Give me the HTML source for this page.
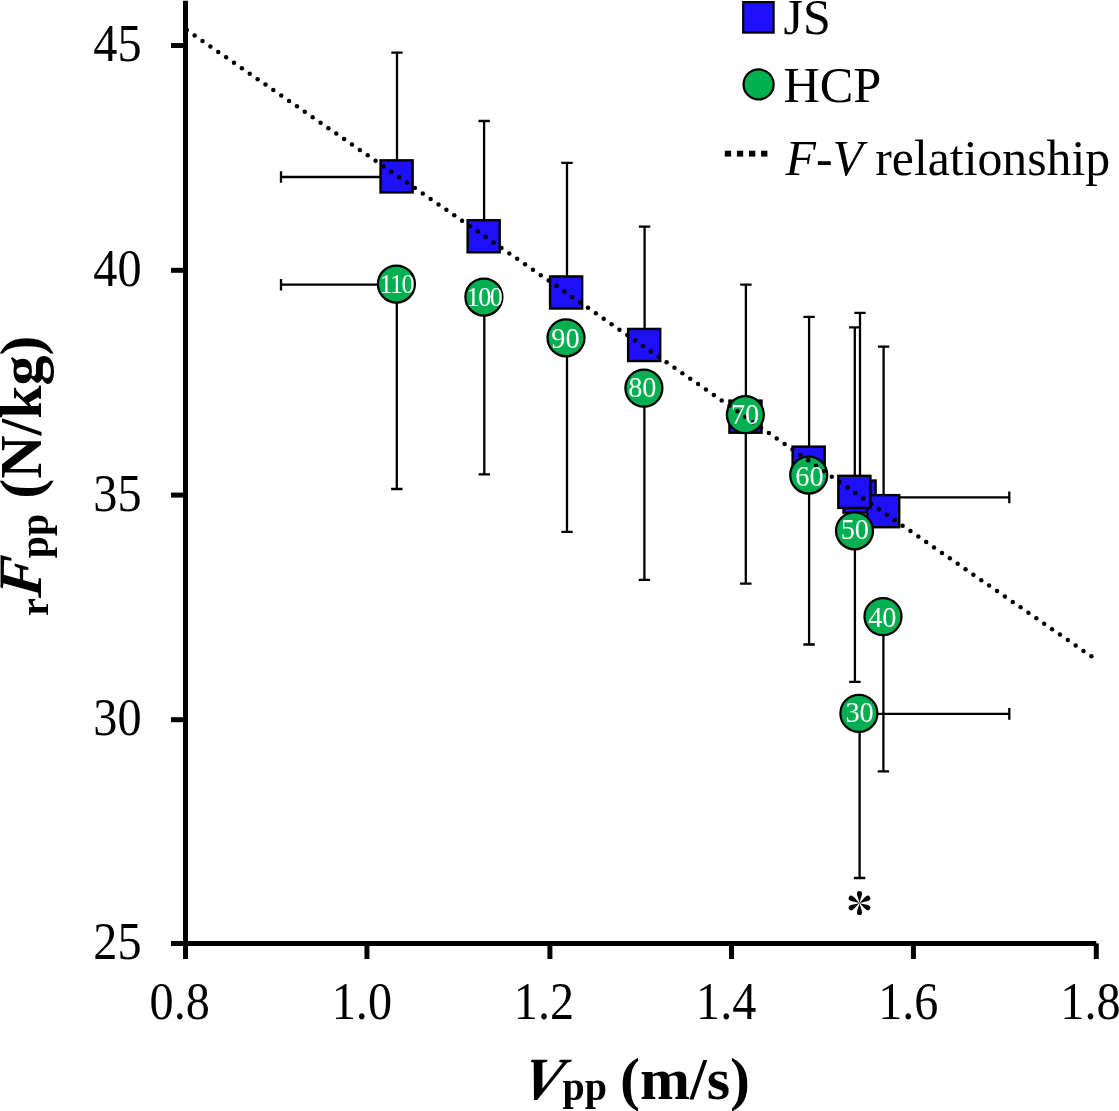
<!DOCTYPE html>
<html><head><meta charset="utf-8"><title>F-V relationship</title>
<style>html,body{margin:0;padding:0;background:#fff;}body{width:1119px;height:1111px;overflow:hidden;}svg{display:block;will-change:transform;}text{font-family:"Liberation Serif",serif;fill:#000;}</style>
</head><body>
<svg width="1119" height="1111" viewBox="0 0 1119 1111">
<rect x="0" y="0" width="1119" height="1111" fill="#fff"/>
<g stroke="#000" stroke-width="5" fill="none" stroke-linecap="butt">
<line x1="185.5" y1="0.8" x2="185.5" y2="959"/>
<line x1="171" y1="943.5" x2="1096.3" y2="943.5"/>
<line x1="171" y1="45.5" x2="185.5" y2="45.5"/>
<line x1="171" y1="270.3" x2="185.5" y2="270.3"/>
<line x1="171" y1="495.1" x2="185.5" y2="495.1"/>
<line x1="171" y1="719.7" x2="185.5" y2="719.7"/>
<line x1="366.95" y1="943.4" x2="366.95" y2="959"/>
<line x1="549.90" y1="943.4" x2="549.90" y2="959"/>
<line x1="731.50" y1="943.4" x2="731.50" y2="959"/>
<line x1="913.40" y1="943.4" x2="913.40" y2="959"/>
<line x1="1096.30" y1="943.4" x2="1096.30" y2="959"/>
</g>
<g font-size="50" text-anchor="end">
<text transform="translate(141.5,61.1) scale(0.965,1.05)">45</text>
<text transform="translate(141.5,285.9) scale(0.965,1.05)">40</text>
<text transform="translate(141.5,510.8) scale(0.965,1.05)">35</text>
<text transform="translate(141.5,735.3) scale(0.965,1.05)">30</text>
<text transform="translate(141.5,959.1) scale(0.965,1.05)">25</text>
</g>
<g font-size="50" text-anchor="middle">
<text transform="translate(179.7,1018.9) scale(0.965,1.045)">0.8</text>
<text transform="translate(361.9,1018.9) scale(0.965,1.045)">1.0</text>
<text transform="translate(544.0,1018.9) scale(0.965,1.045)">1.2</text>
<text transform="translate(726.2,1018.9) scale(0.965,1.045)">1.4</text>
<text transform="translate(908.3,1018.9) scale(0.965,1.045)">1.6</text>
<text transform="translate(1090.5,1018.9) scale(0.965,1.045)">1.8</text>
</g>
<g stroke="#000" stroke-width="2.3" fill="none">
<path d="M860.0 496.6V312.8M854.3 312.8H865.7"/>
<path d="M883.6 511.2V346.7M877.9 346.7H889.3"/>
<path d="M854.8 491.9V327.4M849.1 327.4H860.5"/>
<path d="M809.1 462.7V316.8M803.4 316.8H814.8"/>
<path d="M745.9 416.7V284.7M740.2 284.7H751.6"/>
<path d="M644.6 345.0V226.7M638.9 226.7H650.3"/>
<path d="M567.0 292.5V162.9M561.3 162.9H572.7"/>
<path d="M484.1 236.3V121.0M478.4 121.0H489.8"/>
<path d="M397.0 176.4V52.7M391.3 52.7H402.7"/>
<path d="M396.6 177H281M281 171.2V182.8"/>
<path d="M859.6 497.4H1009.3M1009.3 491.6V503.2"/>
</g>
<g fill="#1f10fa" stroke="#000" stroke-width="2.4">
<rect x="843.52" y="480.53" width="32.1" height="32.1"/>
<rect x="867.12" y="495.12" width="32.1" height="32.1"/>
<rect x="838.32" y="475.82" width="32.1" height="32.1"/>
<rect x="792.62" y="446.62" width="32.1" height="32.1"/>
<rect x="729.42" y="400.62" width="32.1" height="32.1"/>
<rect x="628.12" y="328.93" width="32.1" height="32.1"/>
<rect x="550.07" y="276.43" width="32.1" height="32.1"/>
<rect x="467.62" y="220.23" width="32.1" height="32.1"/>
<rect x="380.53" y="160.33" width="32.1" height="32.1"/>
</g>
<g stroke="#000" stroke-width="2.3" fill="none">
<path d="M859.6 713.4V878.0M853.9 878.0H865.3"/>
<path d="M883.4 616.6V771.4M877.7 771.4H889.1"/>
<path d="M854.9 530.8V681.8M849.2 681.8H860.6"/>
<path d="M809.1 475.0V644.5M803.4 644.5H814.8"/>
<path d="M745.8 414.7V583.7M740.1 583.7H751.5"/>
<path d="M644.4 388.1V579.9M638.7 579.9H650.1"/>
<path d="M567.0 337.8V531.9M561.3 531.9H572.7"/>
<path d="M484.3 297.0V474.4M478.6 474.4H490.0"/>
<path d="M396.8 284.0V489.0M391.1 489.0H402.5"/>
<path d="M396.6 284.7H281M281 278.9V290.5"/>
<path d="M859.3 713.9H1009.3M1009.3 708.1V719.7"/>
</g>
<g fill="#00b050" stroke="#000" stroke-width="2.25">
<circle cx="858.9" cy="713.4" r="18.5"/>
<circle cx="883.0" cy="616.6" r="18.5"/>
<circle cx="854.5" cy="530.8" r="18.5"/>
<circle cx="808.7" cy="475.0" r="18.5"/>
<circle cx="745.4" cy="414.7" r="18.5"/>
<circle cx="643.9" cy="388.1" r="18.5"/>
<circle cx="566.0" cy="337.8" r="18.5"/>
<circle cx="483.9" cy="297.0" r="18.5"/>
<circle cx="396.4" cy="284.0" r="18.5"/>
</g>
<g fill="#000">
<circle cx="186.80" cy="30.12" r="2.25"/>
<circle cx="194.67" cy="35.57" r="2.25"/>
<circle cx="202.53" cy="41.01" r="2.25"/>
<circle cx="210.40" cy="46.46" r="2.25"/>
<circle cx="218.26" cy="51.90" r="2.25"/>
<circle cx="226.13" cy="57.35" r="2.25"/>
<circle cx="234.00" cy="62.79" r="2.25"/>
<circle cx="241.86" cy="68.24" r="2.25"/>
<circle cx="249.73" cy="73.68" r="2.25"/>
<circle cx="257.59" cy="79.13" r="2.25"/>
<circle cx="265.46" cy="84.58" r="2.25"/>
<circle cx="273.33" cy="90.02" r="2.25"/>
<circle cx="281.19" cy="95.47" r="2.25"/>
<circle cx="289.06" cy="100.91" r="2.25"/>
<circle cx="296.92" cy="106.36" r="2.25"/>
<circle cx="304.79" cy="111.80" r="2.25"/>
<circle cx="312.66" cy="117.25" r="2.25"/>
<circle cx="320.52" cy="122.70" r="2.25"/>
<circle cx="328.39" cy="128.14" r="2.25"/>
<circle cx="336.25" cy="133.59" r="2.25"/>
<circle cx="344.12" cy="139.03" r="2.25"/>
<circle cx="351.99" cy="144.48" r="2.25"/>
<circle cx="359.85" cy="149.92" r="2.25"/>
<circle cx="367.72" cy="155.37" r="2.25"/>
<circle cx="375.58" cy="160.81" r="2.25"/>
<circle cx="383.45" cy="166.26" r="2.25"/>
<circle cx="391.32" cy="171.71" r="2.25"/>
<circle cx="399.18" cy="177.15" r="2.25"/>
<circle cx="407.05" cy="182.60" r="2.25"/>
<circle cx="414.91" cy="188.04" r="2.25"/>
<circle cx="422.78" cy="193.49" r="2.25"/>
<circle cx="430.65" cy="198.93" r="2.25"/>
<circle cx="438.51" cy="204.38" r="2.25"/>
<circle cx="446.38" cy="209.82" r="2.25"/>
<circle cx="454.24" cy="215.27" r="2.25"/>
<circle cx="462.11" cy="220.72" r="2.25"/>
<circle cx="469.98" cy="226.16" r="2.25"/>
<circle cx="477.84" cy="231.61" r="2.25"/>
<circle cx="485.71" cy="237.05" r="2.25"/>
<circle cx="493.57" cy="242.50" r="2.25"/>
<circle cx="501.44" cy="247.94" r="2.25"/>
<circle cx="509.31" cy="253.39" r="2.25"/>
<circle cx="517.17" cy="258.84" r="2.25"/>
<circle cx="525.04" cy="264.28" r="2.25"/>
<circle cx="532.90" cy="269.73" r="2.25"/>
<circle cx="540.77" cy="275.17" r="2.25"/>
<circle cx="548.64" cy="280.62" r="2.25"/>
<circle cx="556.50" cy="286.06" r="2.25"/>
<circle cx="564.37" cy="291.51" r="2.25"/>
<circle cx="572.23" cy="296.95" r="2.25"/>
<circle cx="580.10" cy="302.40" r="2.25"/>
<circle cx="587.97" cy="307.85" r="2.25"/>
<circle cx="595.83" cy="313.29" r="2.25"/>
<circle cx="603.70" cy="318.74" r="2.25"/>
<circle cx="611.56" cy="324.18" r="2.25"/>
<circle cx="619.43" cy="329.63" r="2.25"/>
<circle cx="627.30" cy="335.07" r="2.25"/>
<circle cx="635.16" cy="340.52" r="2.25"/>
<circle cx="643.03" cy="345.96" r="2.25"/>
<circle cx="650.89" cy="351.41" r="2.25"/>
<circle cx="658.76" cy="356.86" r="2.25"/>
<circle cx="666.63" cy="362.30" r="2.25"/>
<circle cx="674.49" cy="367.75" r="2.25"/>
<circle cx="682.36" cy="373.19" r="2.25"/>
<circle cx="690.22" cy="378.64" r="2.25"/>
<circle cx="698.09" cy="384.08" r="2.25"/>
<circle cx="705.96" cy="389.53" r="2.25"/>
<circle cx="713.82" cy="394.98" r="2.25"/>
<circle cx="721.69" cy="400.42" r="2.25"/>
<circle cx="729.55" cy="405.87" r="2.25"/>
<circle cx="737.42" cy="411.31" r="2.25"/>
<circle cx="745.29" cy="416.76" r="2.25"/>
<circle cx="753.15" cy="422.20" r="2.25"/>
<circle cx="761.02" cy="427.65" r="2.25"/>
<circle cx="768.88" cy="433.09" r="2.25"/>
<circle cx="776.75" cy="438.54" r="2.25"/>
<circle cx="784.62" cy="443.99" r="2.25"/>
<circle cx="792.48" cy="449.43" r="2.25"/>
<circle cx="800.35" cy="454.88" r="2.25"/>
<circle cx="808.21" cy="460.32" r="2.25"/>
<circle cx="816.08" cy="465.77" r="2.25"/>
<circle cx="823.95" cy="471.21" r="2.25"/>
<circle cx="831.81" cy="476.66" r="2.25"/>
<circle cx="839.68" cy="482.10" r="2.25"/>
<circle cx="847.54" cy="487.55" r="2.25"/>
<circle cx="855.41" cy="493.00" r="2.25"/>
<circle cx="863.28" cy="498.44" r="2.25"/>
<circle cx="871.14" cy="503.89" r="2.25"/>
<circle cx="879.01" cy="509.33" r="2.25"/>
<circle cx="886.87" cy="514.78" r="2.25"/>
<circle cx="894.74" cy="520.22" r="2.25"/>
<circle cx="902.61" cy="525.67" r="2.25"/>
<circle cx="910.47" cy="531.12" r="2.25"/>
<circle cx="918.34" cy="536.56" r="2.25"/>
<circle cx="926.20" cy="542.01" r="2.25"/>
<circle cx="934.07" cy="547.45" r="2.25"/>
<circle cx="941.94" cy="552.90" r="2.25"/>
<circle cx="949.80" cy="558.34" r="2.25"/>
<circle cx="957.67" cy="563.79" r="2.25"/>
<circle cx="965.53" cy="569.23" r="2.25"/>
<circle cx="973.40" cy="574.68" r="2.25"/>
<circle cx="981.27" cy="580.13" r="2.25"/>
<circle cx="989.13" cy="585.57" r="2.25"/>
<circle cx="997.00" cy="591.02" r="2.25"/>
<circle cx="1004.86" cy="596.46" r="2.25"/>
<circle cx="1012.73" cy="601.91" r="2.25"/>
<circle cx="1020.60" cy="607.35" r="2.25"/>
<circle cx="1028.46" cy="612.80" r="2.25"/>
<circle cx="1036.33" cy="618.24" r="2.25"/>
<circle cx="1044.19" cy="623.69" r="2.25"/>
<circle cx="1052.06" cy="629.14" r="2.25"/>
<circle cx="1059.93" cy="634.58" r="2.25"/>
<circle cx="1067.79" cy="640.03" r="2.25"/>
<circle cx="1075.66" cy="645.47" r="2.25"/>
<circle cx="1083.52" cy="650.92" r="2.25"/>
<circle cx="1091.39" cy="656.36" r="2.25"/>
</g>
<g text-anchor="middle">
<text transform="translate(396.2,293.1) scale(0.97,1)" font-size="27" letter-spacing="-1.6" style="fill:#fff">110</text>
<text transform="translate(483.9,306.2) scale(0.97,1)" font-size="27" letter-spacing="-1.6" style="fill:#fff">100</text>
<text transform="translate(565.4,348.0) scale(0.955,1)" font-size="29.7" style="fill:#fff">90</text>
<text transform="translate(642.3,397.0) scale(0.955,1)" font-size="29.7" style="fill:#fff">80</text>
<text transform="translate(745.1,424.4) scale(0.955,1)" font-size="29.7" style="fill:#fff">70</text>
<text transform="translate(809.4,485.5) scale(0.955,1)" font-size="29.7" style="fill:#fff">60</text>
<text transform="translate(854.8,539.3) scale(0.955,1)" font-size="29.7" style="fill:#fff">50</text>
<text transform="translate(882.3,626.8) scale(0.955,1)" font-size="29.7" style="fill:#fff">40</text>
<text transform="translate(859.6,722.1) scale(0.955,1)" font-size="29.7" style="fill:#fff">30</text>
</g>
<rect x="743.2" y="2.1" width="30.4" height="30.5" fill="#1f10fa" stroke="#000" stroke-width="2.2"/>
<circle cx="758.6" cy="84.45" r="15.05" fill="#00b050" stroke="#000" stroke-width="2.2"/>
<rect x="724.80" y="150.7" width="6.3" height="5.9" fill="#000"/>
<rect x="736.90" y="150.7" width="6.3" height="5.9" fill="#000"/>
<rect x="749.00" y="150.7" width="6.3" height="5.9" fill="#000"/>
<rect x="761.10" y="150.7" width="6.3" height="5.9" fill="#000"/>
<text transform="translate(783.5,33.5) scale(1,1.03)" font-size="50">JS</text>
<text transform="translate(783.5,101.6) scale(1.006,1.03)" font-size="50">HCP</text>
<text transform="translate(785.5,175.4) scale(0.995,1.025)" font-size="50"><tspan font-style="italic">F-V</tspan> relationship</text>
<g transform="translate(859.5,903)" fill="#000" aria-label="*">
<path transform="rotate(0)" d="M0 0C-0.45 -3 -2.55 -7 -2.55 -9.55A2.55 2.55 0 0 1 2.55 -9.55C2.55 -7 0.45 -3 0 0Z"/>
<path transform="rotate(60)" d="M0 0C-0.45 -3 -2.55 -7 -2.55 -9.55A2.55 2.55 0 0 1 2.55 -9.55C2.55 -7 0.45 -3 0 0Z"/>
<path transform="rotate(120)" d="M0 0C-0.45 -3 -2.55 -7 -2.55 -9.55A2.55 2.55 0 0 1 2.55 -9.55C2.55 -7 0.45 -3 0 0Z"/>
<path transform="rotate(180)" d="M0 0C-0.45 -3 -2.55 -7 -2.55 -9.55A2.55 2.55 0 0 1 2.55 -9.55C2.55 -7 0.45 -3 0 0Z"/>
<path transform="rotate(240)" d="M0 0C-0.45 -3 -2.55 -7 -2.55 -9.55A2.55 2.55 0 0 1 2.55 -9.55C2.55 -7 0.45 -3 0 0Z"/>
<path transform="rotate(300)" d="M0 0C-0.45 -3 -2.55 -7 -2.55 -9.55A2.55 2.55 0 0 1 2.55 -9.55C2.55 -7 0.45 -3 0 0Z"/>
</g>
<g font-size="60" font-weight="bold">
<text transform="translate(518.8,1098.8) skewX(-13)" font-style="italic">V</text>
<text x="562.6" y="1100.3" font-size="40">pp</text>
<text x="620.0" y="1098.8">(m/s)</text>
</g>
<g transform="translate(41,616) rotate(-90)" font-size="60" font-weight="bold">
<text x="0" y="7.3" font-size="40">r</text>
<text transform="translate(17.76,0) skewX(-6) scale(1,1.03)" font-style="italic">F</text>
<text x="57.76" y="7.3" font-size="40">pp</text>
<text x="117.26" y="0">(N/kg)</text>
</g>
</svg>
</body></html>
